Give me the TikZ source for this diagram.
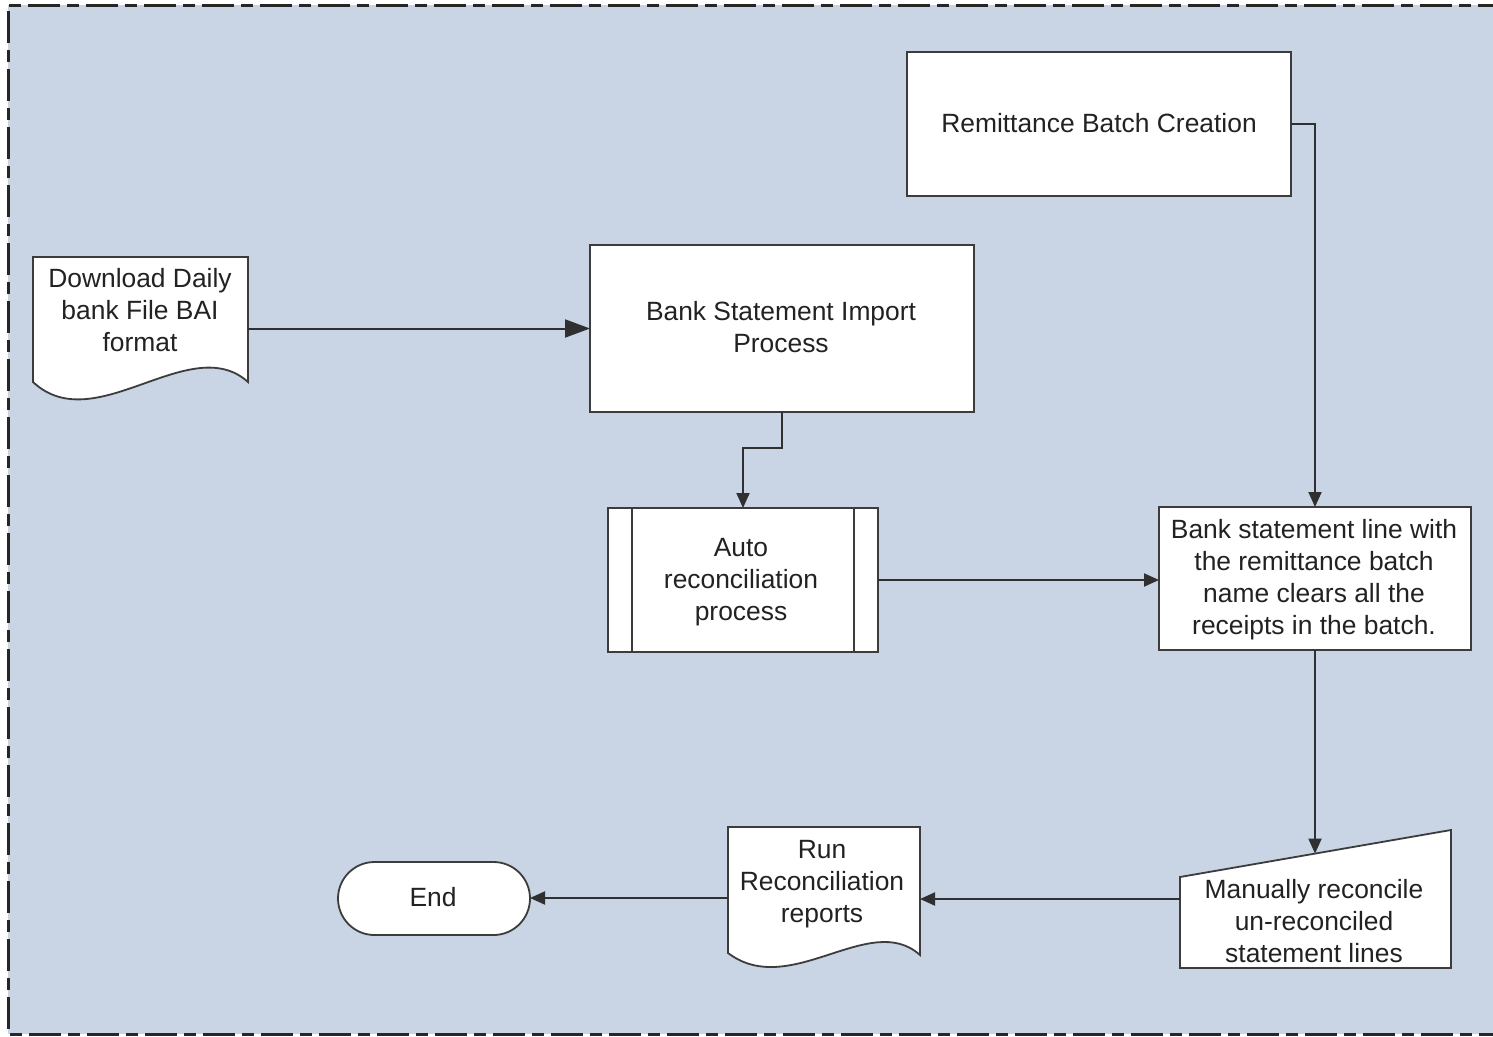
\documentclass[tikz,border=0pt]{standalone}
\usepackage{fontspec}
\setmainfont{Liberation Sans}
\usetikzlibrary{arrows.meta,calc}
\definecolor{bgblue}{RGB}{201,213,229}
\definecolor{edgegray}{RGB}{60,60,60}
\definecolor{txtgray}{RGB}{34,34,34}
\tikzset{
  shapeline/.style={draw=edgegray, line width=1.8pt, fill=white, line join=miter},
  area/.style={draw=none, inner sep=0pt, outer sep=0pt},
  lbl/.style={align=center, text=txtgray, font=\fontsize{26.4}{32}\selectfont, inner sep=0pt},
  conn/.style={draw=edgegray!80!black, line width=2pt, -{Triangle[length=15pt,width=13pt]}},
  bigconn/.style={draw=edgegray!80!black, line width=2pt, -{Triangle[length=25pt,width=18pt]}},
}
\begin{document}
\begin{tikzpicture}[x=1pt,y=-1pt]
\useasboundingbox (0,0) rectangle (1493,1036);
% frame
\fill[bgblue] (8,5) rectangle (1510,1034);
\draw[black!85, line width=3pt, dash pattern=on 32pt off 7pt on 12pt off 7pt] (1510,5) -- (8,5) -- (8,1034) -- (1510,1034);

% Download document
\path[shapeline] (33,257) -- (248,257) -- (248,382)
  .. controls (190,330) and (95,440) .. (33,382) -- cycle;
\node[area, minimum width=215pt, minimum height=125pt] (dl) at (140.5,319.5) {};
\node[lbl] (dlt) at (140,310) {Download Daily\\bank File BAI\\format};

% Bank Statement Import Process
\node[shapeline, area, draw=edgegray, minimum width=384pt, minimum height=167pt] (bsi) at (782,328.5) {};
\node[lbl] (bsit) at (781,327) {Bank Statement Import\\Process};

% Remittance Batch Creation
\node[shapeline, area, draw=edgegray, minimum width=384pt, minimum height=144pt] (rem) at (1099,124) {};
\node[lbl] (remt) at (1099,123) {Remittance Batch Creation};

% Auto reconciliation (predefined process)
\node[shapeline, area, draw=edgegray, minimum width=270pt, minimum height=144pt] (auto) at (743,580) {};
\draw[edgegray, line width=1.8pt] (632,508) -- (632,652) (854,508) -- (854,652);
\node[lbl] (autot) at (741,582) {Auto\\reconciliation\\process};

% Bank statement line
\node[shapeline, area, draw=edgegray, minimum width=312pt, minimum height=143pt] (bst) at (1315,578.5) {};
\node[lbl] (bstt) at (1314,580) {Bank statement line with\\the remittance batch\\name clears all the\\receipts in the batch.};

% Manual input
\path[shapeline] (1180,877) -- (1451,830) -- (1451,968) -- (1180,968) -- cycle;
\node[area, minimum width=271pt, minimum height=138pt] (man) at (1315.5,899) {};
\coordinate (mantop) at (1315,853.6);
\node[lbl] (mant) at (1314,921) {Manually reconcile\\un-reconciled\\statement lines};

% Run Reconciliation reports document
\path[shapeline] (728,827) -- (920,827) -- (920,955)
  .. controls (870,910) and (790,1000) .. (728,953) -- cycle;
\node[area, minimum width=192pt, minimum height=142pt] (run) at (824,898) {};
\node[lbl] (runt) at (822,884) {Run\\Reconciliation\\reports};

% End terminator
\node[shapeline, area, draw=edgegray, rounded corners=36.5pt, minimum width=192pt, minimum height=73pt] (end) at (434,898.5) {};
\node[lbl] (endt) at (433,897) {End};

% connectors
\draw[bigconn] (dl.east |- bsi.west) -- (bsi.west);
\draw[conn] (bsi.south) -- ++(0,36) -| (auto.north);
\draw[conn] (auto.east) -- (auto.east -| bst.west);
\draw[conn] (rem.east) -| (bst.north);
\draw[conn] (bst.south) -- (mantop);
\draw[conn] (man.west) -- (man.west -| run.east);
\draw[conn] (run.west) -- (run.west -| end.east);
\end{tikzpicture}
\end{document}
